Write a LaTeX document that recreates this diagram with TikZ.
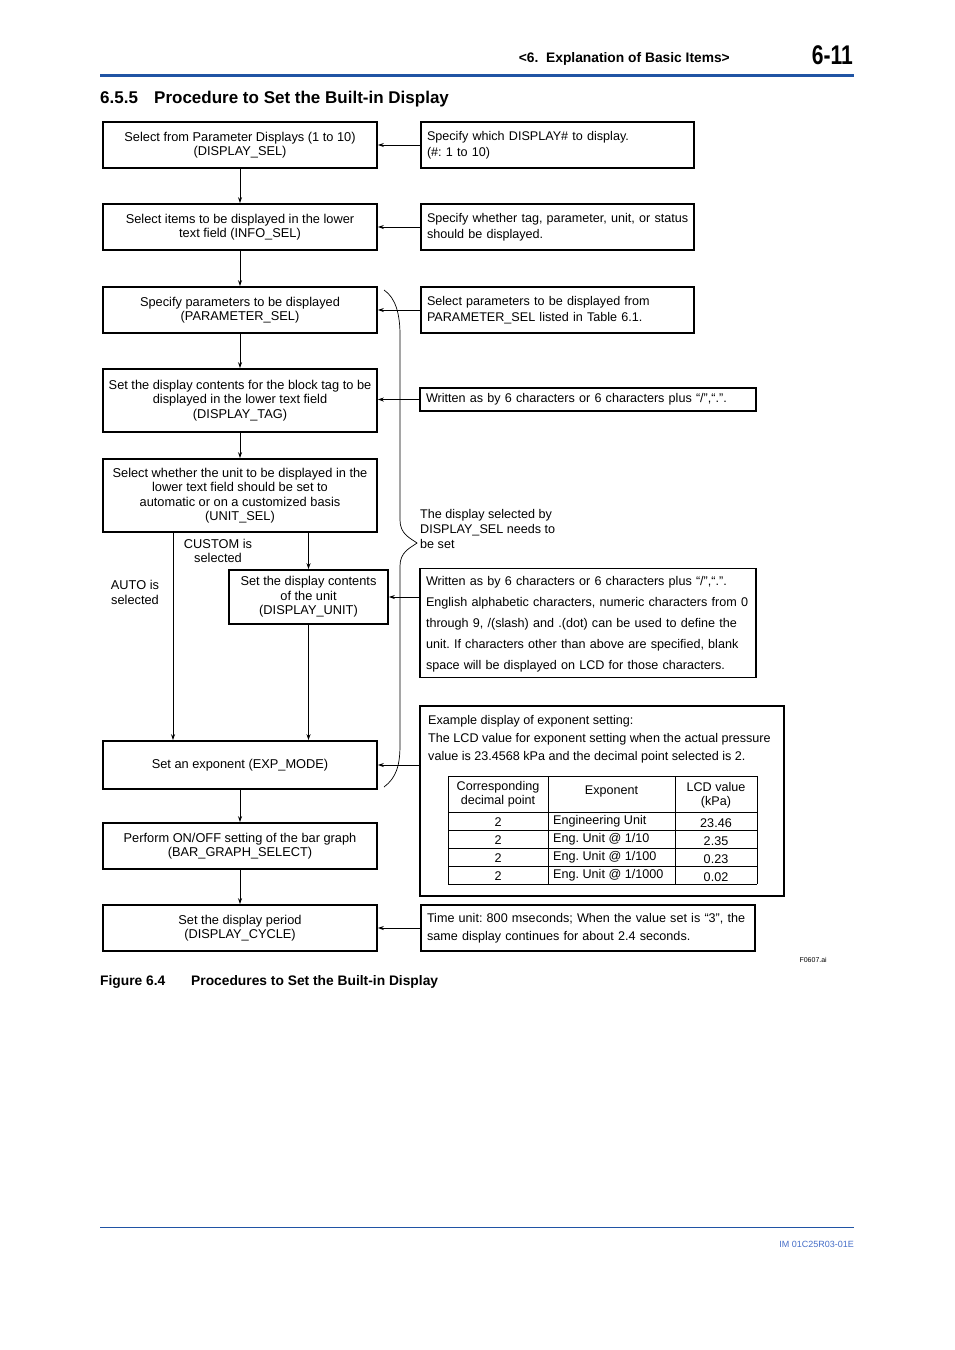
\documentclass[tikz,border=0pt]{standalone}
\usepackage{fontspec}
\setmainfont{Liberation Sans}
\newfontfamily\condsans[FakeStretch=0.78]{Liberation Sans}
\usetikzlibrary{arrows.meta,positioning,calc}
\definecolor{hdblue}{RGB}{32,84,164}
\definecolor{ftblue}{RGB}{70,110,200}
\newcommand\notetext[1]{\begin{tabular}{@{}l@{}}#1\end{tabular}}

\begin{document}
\frenchspacing
\begin{tikzpicture}[x=1pt,y=-1pt,
  procbox/.style={draw, line width=1.6pt, minimum width=274pt, align=center, inner sep=2pt, font=\fontsize{12.8}{14.5}\selectfont},
  notebox/.style={draw, line width=1.6pt, align=left, inner xsep=6pt, inner ysep=2pt, font=\fontsize{12.6}{16}\selectfont},
  arrow/.style={-{Stealth[length=6pt,width=4pt]}, line width=0.8pt},
  branchlbl/.style={align=center, font=\fontsize{12.8}{14.5}\selectfont},
  tblcell/.style={align=center, inner sep=0pt, font=\fontsize{12.6}{14.5}\selectfont},
  pagetext/.style={inner sep=0pt, font=\bfseries\fontsize{#1}{#1}\selectfont},
]
  \useasboundingbox[fill=white] (0,0) rectangle (954,1350);

  % Page head
  \node[pagetext=13.8, anchor=base east] (chap) at (730,62) {<6.\ \ Explanation of Basic Items>};
  \node[pagetext=28, anchor=base east, font=\condsans\bfseries\fontsize{27}{30}\selectfont] (pgno) at (853,64) {6-11};
  \draw[hdblue, line width=3pt] (100,75) -- (854,75);
  \node[pagetext=17, anchor=base west] (sect) at (100,103) {6.5.5};
  \node[pagetext=17, anchor=base west] (secttitle) at (154,103) {Procedure to Set the Built-in Display};

  % Procedure steps
  \node[procbox, minimum height=46pt] (dispsel) at (240,145) {Select from Parameter Displays (1 to 10)\\(DISPLAY\_SEL)};
  \node[procbox, minimum height=46pt] (infosel) at (240,227) {Select items to be displayed in the lower\\text field (INFO\_SEL)};
  \node[procbox, minimum height=46pt] (paramsel) at (240,310) {Specify parameters to be displayed\\(PARAMETER\_SEL)};
  \node[procbox, minimum height=63pt] (disptag) at (240,400.5) {Set the display contents for the block tag to be\\displayed in the lower text field\\(DISPLAY\_TAG)};
  \node[procbox, minimum height=73pt] (unitsel) at (240,495.5) {Select whether the unit to be displayed in the\\lower text field should be set to\\automatic or on a customized basis\\(UNIT\_SEL)};
  \node[procbox, minimum width=159pt, minimum height=54pt] (dispunit) at (308.5,597) {Set the display contents\\of the unit\\(DISPLAY\_UNIT)};
  \node[procbox, minimum height=48pt] (expmode) at (240,765) {Set an exponent (EXP\_MODE)};
  \node[procbox, minimum height=46pt] (bargraph) at (240,846) {Perform ON/OFF setting of the bar graph\\(BAR\_GRAPH\_SELECT)};
  \node[procbox, minimum height=46pt] (dispcycle) at (240,928) {Set the display period\\(DISPLAY\_CYCLE)};

  % Notes
  \node[notebox, text width=261pt, minimum height=46pt] (dispnote) at (557.5,145) {\notetext{Specify which DISPLAY\# to display.\\(\#: 1 to 10)}};
  \node[notebox, text width=261pt, minimum height=46pt] (infonote) at (557.5,227) {\notetext{Specify whether tag, parameter, unit, or status\\should be displayed.}};
  \node[notebox, text width=261pt, minimum height=46pt] (paramnote) at (557.5,310) {\notetext{Select parameters to be displayed from\\PARAMETER\_SEL listed in Table 6.1.}};
  \node[notebox, text width=324pt, minimum height=23pt] (tagnote) at (588,399.5) {\notetext{Written as by 6 characters or 6 characters plus “/”,“.”.}};
  \node[notebox, text width=324pt, minimum height=108pt, font=\fontsize{12.6}{21}\selectfont] (unitnote) at (588,623) {\notetext{Written as by 6 characters or 6 characters plus “/”,“.”.\\English alphabetic characters, numeric characters from 0\\through 9, /(slash) and .(dot) can be used to define the\\unit. If characters other than above are specified, blank\\space will be displayed on LCD for those characters.}};
  \node[draw, line width=1.6pt, minimum width=364pt, minimum height=190pt] (expnote) at (602,801) {};
  \node[notebox, text width=322pt, minimum height=46pt, font=\fontsize{12.6}{18}\selectfont] (cyclenote) at (588,928) {\notetext{Time unit: 800 mseconds; When the value set is “3”, the\\same display continues for about 2.4 seconds.}};

  % Exponent example
  \node[anchor=north west, align=left, inner sep=0pt, font=\fontsize{12.6}{18}\selectfont] (exptext) at (428,715) {Example display of exponent setting:\\The LCD value for exponent setting when the actual pressure\\value is 23.4568 kPa and the decimal point selected is 2.};
  \foreach \yy in {776,812,830,848,866,884}
    \draw[line width=0.8pt] (448,\yy) -- (757,\yy);
  \foreach \xx in {448,548,675,757}
    \draw[line width=0.8pt] (\xx,776) -- (\xx,884);
  \node[tblcell] (hdpoint) at (498,794) {Corresponding\\decimal point};
  \node[tblcell] (hdexp) at (611.5,791) {Exponent};
  \node[tblcell] (hdlcd) at (716,795) {LCD value\\(kPa)};
  \foreach \i in {1,...,4}
    \node[tblcell] (pt\i) at (498,{804+18*\i}) {2};
  \node[tblcell, anchor=west] (exp1) at (553,821) {Engineering Unit};
  \node[tblcell, anchor=west] (exp2) at (553,839) {Eng. Unit @ 1/10};
  \node[tblcell, anchor=west] (exp3) at (553,857) {Eng. Unit @ 1/100};
  \node[tblcell, anchor=west] (exp4) at (553,875) {Eng. Unit @ 1/1000};
  \node[tblcell] (lcd1) at (716,823) {23.46};
  \node[tblcell] (lcd2) at (716,841) {2.35};
  \node[tblcell] (lcd3) at (716,859) {0.23};
  \node[tblcell] (lcd4) at (716,877) {0.02};

  % Flow arrows
  \draw[arrow] (dispsel) -- (infosel);
  \draw[arrow] (infosel) -- (paramsel);
  \draw[arrow] (paramsel) -- (disptag);
  \draw[arrow] (disptag) -- (unitsel);
  \coordinate (autox) at (173,0);
  \draw[arrow] (unitsel.south -| autox) -- (expmode.north -| autox);
  \draw[arrow] (unitsel.south -| dispunit.north) -- (dispunit.north);
  \draw[arrow] (dispunit.south) -- (expmode.north -| dispunit.south);
  \draw[arrow] (expmode) -- (bargraph);
  \draw[arrow] (bargraph) -- (dispcycle);
  \node[branchlbl] (customlbl) at (218,551) {CUSTOM is\\selected};
  \node[branchlbl] (autolbl) at (135,592.5) {AUTO is\\selected};

  % Notes to steps
  \draw[arrow] (dispnote.west) -- (dispsel.east);
  \draw[arrow] (infonote.west) -- (infosel.east);
  \draw[arrow] (paramnote.west) -- (paramsel.east);
  \draw[arrow] (tagnote.west) -- (tagnote.west -| disptag.east);
  \draw[arrow] (dispunit.east -| unitnote.west) -- (dispunit.east);
  \draw[arrow] (expmode.east -| expnote.west) -- (expmode.east);
  \draw[arrow] (cyclenote.west) -- (dispcycle.east);

  % Brace
  \draw[line width=0.7pt] (384,290) .. controls (396,298) and (400,315) .. (400,335) -- (400,520)
    .. controls (400,534) and (410,538) .. (417,543) .. controls (410,548) and (400,552) .. (400,566)
    -- (400,745) .. controls (400,766) and (396,778) .. (384,787);
  \node[anchor=west, align=left, inner sep=0pt, font=\fontsize{12.6}{15}\selectfont] (bracenote) at (420,529) {The display selected by\\DISPLAY\_SEL needs to\\be set};

  % Caption and foot
  \node[anchor=base east, inner sep=0pt, font=\fontsize{7}{8}\selectfont] (fileid) at (827,962) {F0607.ai};
  \node[pagetext=13.8, anchor=base west] (figno) at (100,985) {Figure 6.4};
  \node[pagetext=13.8, anchor=base west] (figtitle) at (191,985) {Procedures to Set the Built-in Display};
  \draw[hdblue, line width=1pt] (100,1227) -- (854,1227);
  \node[anchor=base east, inner sep=0pt, text=ftblue, font=\fontsize{9}{10}\selectfont] (docid) at (854,1247) {IM 01C25R03-01E};
\end{tikzpicture}
\end{document}
